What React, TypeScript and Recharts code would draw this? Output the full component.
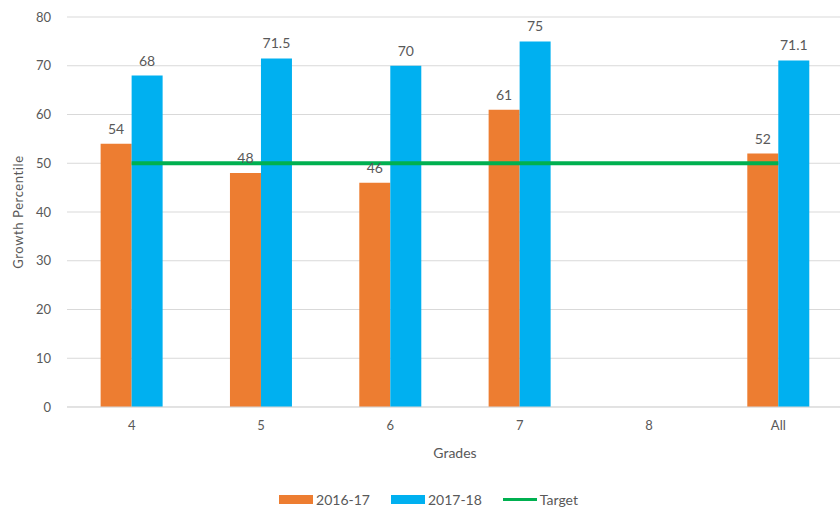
import { ComposedChart, Bar, Line, XAxis, YAxis, CartesianGrid, Legend, LabelList } from 'recharts';

const grades = ['4', '5', '6', '7', '8', 'All'];
const y2016 = [54, 48, 46, 61, null, 52];
const y2017 = [68, 71.5, 70, 75, null, 71.1];
const target = [50, 50, 50, 50, 50, 50];
const yTicks = [0, 10, 20, 30, 40, 50, 60, 70, 80];

const data = grades.map((g, i) => ({ grade: g, a: y2016[i], b: y2017[i], t: target[i] }));

const font = 'Lato, "Open Sans", sans-serif';
const textColor = '#595959';

const legendItems = [
  { name: '2016-17', color: '#ED7D31', kind: 'rect' },
  { name: '2017-18', color: '#00B0F0', kind: 'rect' },
  { name: 'Target', color: '#00B050', kind: 'line' },
];

const CustomLegend = () => (
  <div style={{ display: 'flex', justifyContent: 'center', alignItems: 'center', gap: 21, paddingTop: 14, paddingLeft: 14, fontFamily: font, fontSize: 14, color: textColor }}>
    {legendItems.map((it) => (
      <div key={it.name} style={{ display: 'flex', alignItems: 'center' }}>
        <span style={{ display: 'inline-block', width: 34, height: it.kind === 'rect' ? 9 : 3, background: it.color, marginRight: 3 }} />
        <span>{it.name}</span>
      </div>
    ))}
  </div>
);

export default function App() {
  return (
    <div style={{ position: 'fixed', left: 0, top: 0, width: 840, height: 508, overflow: 'hidden', background: '#fff' }}>
      <ComposedChart width={850} height={508} data={data} margin={{ top: 17, right: 7, left: 0, bottom: 0 }} barGap={0} barCategoryGap="26%">
        <CartesianGrid vertical={false} stroke="#d9d9d9" />
        <XAxis
          dataKey="grade"
          tickLine={false}
          axisLine={{ stroke: '#d9d9d9' }}
          tick={{ fill: textColor, fontSize: 13, fontFamily: font }}
          tickMargin={8}
          height={70}
          label={{ value: 'Grades', position: 'insideBottom', offset: 19, fill: textColor, fontSize: 14, fontFamily: font }}
        />
        <YAxis
          domain={[0, 80]}
          ticks={yTicks}
          width={67}
          axisLine={false}
          tickLine={false}
          tick={{ fill: textColor, fontSize: 13, fontFamily: font }}
          tickMargin={10}
          label={{ value: 'Growth Percentile', angle: -90, position: 'insideLeft', offset: 18, style: { textAnchor: 'middle', letterSpacing: 0.6 }, fill: textColor, fontSize: 13, fontFamily: font }}
        />
        <Legend verticalAlign="bottom" height={31} content={<CustomLegend />} />
        <Bar dataKey="a" name="2016-17" fill="#ED7D31" isAnimationActive={false}>
          <LabelList dataKey="a" position="top" offset={10} fill={textColor} fontSize={14} fontFamily={font} />
        </Bar>
        <Bar dataKey="b" name="2017-18" fill="#00B0F0" isAnimationActive={false}>
          <LabelList dataKey="b" position="top" offset={10} fill={textColor} fontSize={14} fontFamily={font} />
        </Bar>
        <Line dataKey="t" name="Target" stroke="#00B050" strokeWidth={4} dot={false} isAnimationActive={false} />
      </ComposedChart>
    </div>
  );
}
